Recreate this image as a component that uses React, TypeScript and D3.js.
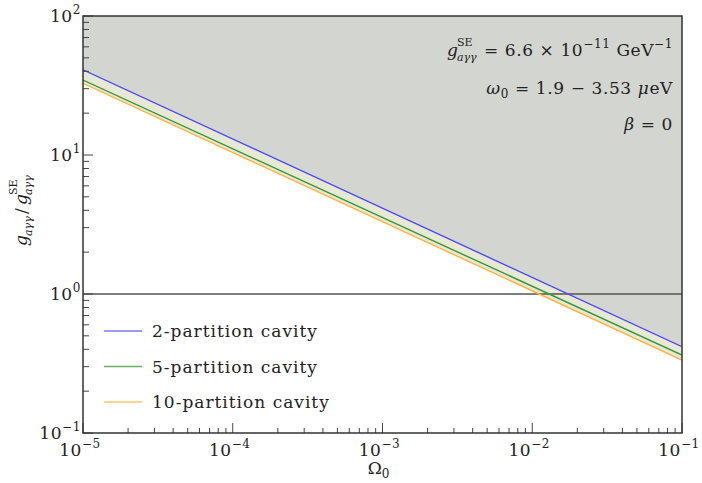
import React, { useLayoutEffect, useRef, useState } from "react";
import * as d3 from "d3";

const omega = [1e-5, 1e-1];
const twoPartition = [41.0, 0.418];
const fivePartition = [34.6, 0.364];
const tenPartition = [32.8, 0.335];
const seriesNames = ["2-partition cavity", "5-partition cavity", "10-partition cavity"];
const seriesColors = ["#4b4bf2", "#3a963a", "#ffb23f"];
const xDecades = [-5, -4, -3, -2, -1];
const yDecades = [-1, 0, 1, 2];

const W = 702, H = 483;
const L = 83, R = 682, T = 16, B = 433;
const FONT = "'DejaVu Serif', serif";

export default function App() {
  const x = d3.scaleLog().domain([1e-5, 1e-1]).range([L, R]);
  const y = d3.scaleLog().domain([1e-1, 1e2]).range([B, T]);
  const series = [twoPartition, fivePartition, tenPartition];
  const line = d3.line<number>().x((_, i) => x(omega[i])).y((v) => y(v));
  const topArea = d3.area<number>().x((_, i) => x(omega[i])).y0(() => T).y1((v) => y(v));
  const band = d3.area<number>().x((_, i) => x(omega[i])).y0((_, i) => y(tenPartition[i])).y1((v) => y(v));

  const xMinor: number[] = [];
  xDecades.slice(0, -1).forEach((d) => { for (let k = 2; k < 10; k++) xMinor.push(k * Math.pow(10, d)); });
  const yMinor: number[] = [];
  yDecades.slice(0, -1).forEach((d) => { for (let k = 2; k < 10; k++) yMinor.push(k * Math.pow(10, d)); });

  const mainRef = useRef<SVGTextElement>(null);
  const [gx, setGx] = useState(450);
  useLayoutEffect(() => {
    if (mainRef.current) {
      const bb = mainRef.current.getBBox();
      setGx(bb.x - 37);
    }
  }, []);

  const tickColor = "#444";
  const fs = 17;
  const sup = 12;
  const txt = "#222";
  const ls = 0.6;

  return (
    <svg width={W} height={H} style={{ display: "block", position: "absolute", left: 0, top: 0 }} fontFamily={FONT}>
      <rect x={0} y={0} width={W} height={H} fill="#fff" />
      <defs>
        <clipPath id="plot"><rect x={L} y={T} width={R - L} height={B - T} /></clipPath>
      </defs>
      <g clipPath="url(#plot)">
        <path d={topArea(twoPartition) || ""} fill="#d3d6d0" />
        <path d={band(twoPartition) || ""} fill="#e7e9d4" />
        <line x1={L} x2={R} y1={y(1)} y2={y(1)} stroke="#555" strokeWidth={1.6} />
        {series.map((s, i) => (
          <path key={i} d={line(s) || ""} fill="none" stroke={seriesColors[i]} strokeWidth={1.4} />
        ))}
      </g>
      {xDecades.map((d) => (
        <line key={"xM" + d} x1={x(Math.pow(10, d))} x2={x(Math.pow(10, d))} y1={B} y2={B - 10} stroke={tickColor} strokeWidth={1} />
      ))}
      {xMinor.map((v, i) => (
        <line key={"xm" + i} x1={x(v)} x2={x(v)} y1={B} y2={B - 5} stroke={tickColor} strokeWidth={1} />
      ))}
      {yDecades.map((d) => (
        <line key={"yM" + d} x1={L} x2={L + 10} y1={y(Math.pow(10, d))} y2={y(Math.pow(10, d))} stroke={tickColor} strokeWidth={1} />
      ))}
      {yMinor.map((v, i) => (
        <line key={"ym" + i} x1={L} x2={L + 6} y1={y(v)} y2={y(v)} stroke={tickColor} strokeWidth={1} />
      ))}
      <rect x={L} y={T} width={R - L} height={B - T} fill="none" stroke="#333" strokeWidth={1.5} />
      {xDecades.map((d) => (
        <text key={"xl" + d} x={x(Math.pow(10, d)) - 3} y={456} fontSize={fs} textAnchor="middle" fill={txt} letterSpacing={ls}>
          10<tspan dy={-8} fontSize={sup}>{"\u2212" + Math.abs(d)}</tspan>
        </text>
      ))}
      {yDecades.map((d) => (
        <text key={"yl" + d} x={L - 2} y={y(Math.pow(10, d)) + 6} fontSize={fs} textAnchor="end" fill={txt} letterSpacing={ls}>
          10<tspan dy={-8} fontSize={sup}>{d < 0 ? "\u2212" + Math.abs(d) : String(d)}</tspan>
        </text>
      ))}
      <text x={(L + R) / 2 - 4} y={474} fontSize={fs} textAnchor="middle" fill={txt}>
        Ω<tspan dy={4} fontSize={sup}>0</tspan>
      </text>
      {/* y label */}
      <g transform="translate(27,246) rotate(-90)" fill={txt}>
        <text x={0} y={0} fontSize={fs} fontStyle="italic">g</text>
        <text x={10} y={5} fontSize={sup - 1} fontStyle="italic">aγγ</text>
        <text x={32} y={0} fontSize={fs}>/</text>
        <text x={41} y={0} fontSize={fs} fontStyle="italic">g</text>
        <text x={51} y={-10} fontSize={sup - 1}>SE</text>
        <text x={51} y={5} fontSize={sup - 1} fontStyle="italic">aγγ</text>
      </g>
      {/* annotations */}
      <text ref={mainRef} x={673} y={56} fontSize={fs} textAnchor="end" fill={txt} letterSpacing={ls}>
        {"= 6.6 × 10"}
        <tspan dy={-8} fontSize={sup}>{"\u221211"}</tspan>
        <tspan dy={8}>{" GeV"}</tspan>
        <tspan dy={-8} fontSize={sup}>{"\u22121"}</tspan>
      </text>
      <text x={gx} y={56} fontSize={fs} fontStyle="italic" fill={txt}>g</text>
      <text x={gx + 10} y={46} fontSize={sup - 1} fill={txt}>SE</text>
      <text x={gx + 10} y={61} fontSize={sup - 1} fontStyle="italic" fill={txt}>aγγ</text>
      <text x={673} y={94} fontSize={fs} textAnchor="end" fill={txt} letterSpacing={ls}>
        <tspan fontStyle="italic">ω</tspan>
        <tspan dy={4} fontSize={sup}>0</tspan>
        <tspan dy={-4}>{" = 1.9 − 3.53 "}</tspan>
        <tspan fontStyle="italic">μ</tspan>
        <tspan>eV</tspan>
      </text>
      <text x={673} y={130} fontSize={fs} textAnchor="end" fill={txt} letterSpacing={ls}>
        <tspan fontStyle="italic">β</tspan>
        <tspan>{" = 0"}</tspan>
      </text>
      {seriesNames.map((n, i) => (
        <g key={n} transform={`translate(0,${331 + i * 35.5})`}>
          <line x1={104} x2={142} y1={0} y2={0} stroke={seriesColors[i]} strokeOpacity={0.75} strokeWidth={1.4} />
          <text x={152} y={6} fontSize={fs} fill={txt} letterSpacing={1}>{n}</text>
        </g>
      ))}
    </svg>
  );
}
